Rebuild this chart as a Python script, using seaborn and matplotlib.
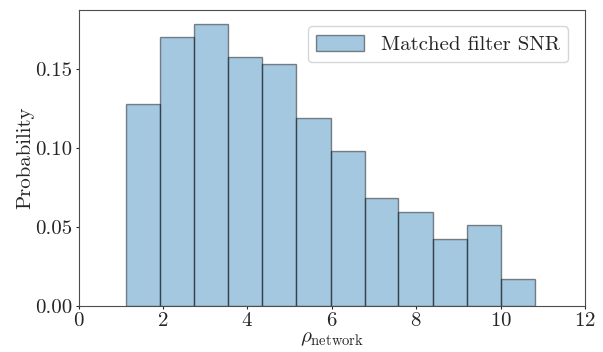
import numpy as np
import pandas as pd
import matplotlib
matplotlib.use("Agg")
import matplotlib.pyplot as plt
import seaborn as sns

# bin edges and probability density
bin_edges = [1.12, 1.93, 2.74, 3.55, 4.35, 5.16, 5.97, 6.78, 7.58, 8.39, 9.20, 10.00, 10.81]
density = [0.1276, 0.1700, 0.1785, 0.1574, 0.1530, 0.1191, 0.0978, 0.0681, 0.0596, 0.0425, 0.0509, 0.0171]
x_ticks = [0, 2, 4, 6, 8, 10, 12]

centers = [(a + b) / 2 for a, b in zip(bin_edges[:-1], bin_edges[1:])]
df = pd.DataFrame({"rho": centers, "p": density})

sns.set_style("ticks")
plt.rcParams["font.family"] = "serif"
plt.rcParams["font.serif"] = ["cmr10"]
plt.rcParams["mathtext.fontset"] = "cm"
plt.rcParams["axes.formatter.use_mathtext"] = True
plt.rcParams["axes.edgecolor"] = "0.3"

fig, ax = plt.subplots(figsize=(6.03, 3.52), dpi=100)
fig.subplots_adjust(left=0.1305, right=0.970, bottom=0.1315, top=0.9724)

sns.histplot(data=df, x="rho", weights="p", bins=bin_edges, ax=ax,
             color="tab:blue", alpha=0.4, edgecolor=(0, 0, 0, 0.45), linewidth=1.0,
             label="Matched filter SNR")

ax.set_xlim(0, 12)
ax.set_xticks(x_ticks)
ax.set_yticks([0.0, 0.05, 0.10, 0.15])
ax.set_yticklabels(["0.00", "0.05", "0.10", "0.15"])
ax.tick_params(labelsize=15, length=2.5, pad=2)
ax.set_xlabel(r"$\rho_{\rm network}$", fontsize=15, labelpad=0)
ax.set_ylabel("Probability", fontsize=15, labelpad=1)
ax.legend(loc="upper right", fontsize=15, borderaxespad=0.8,
          handlelength=2.3, handleheight=0.8)

plt.savefig("out.png", dpi=100)
